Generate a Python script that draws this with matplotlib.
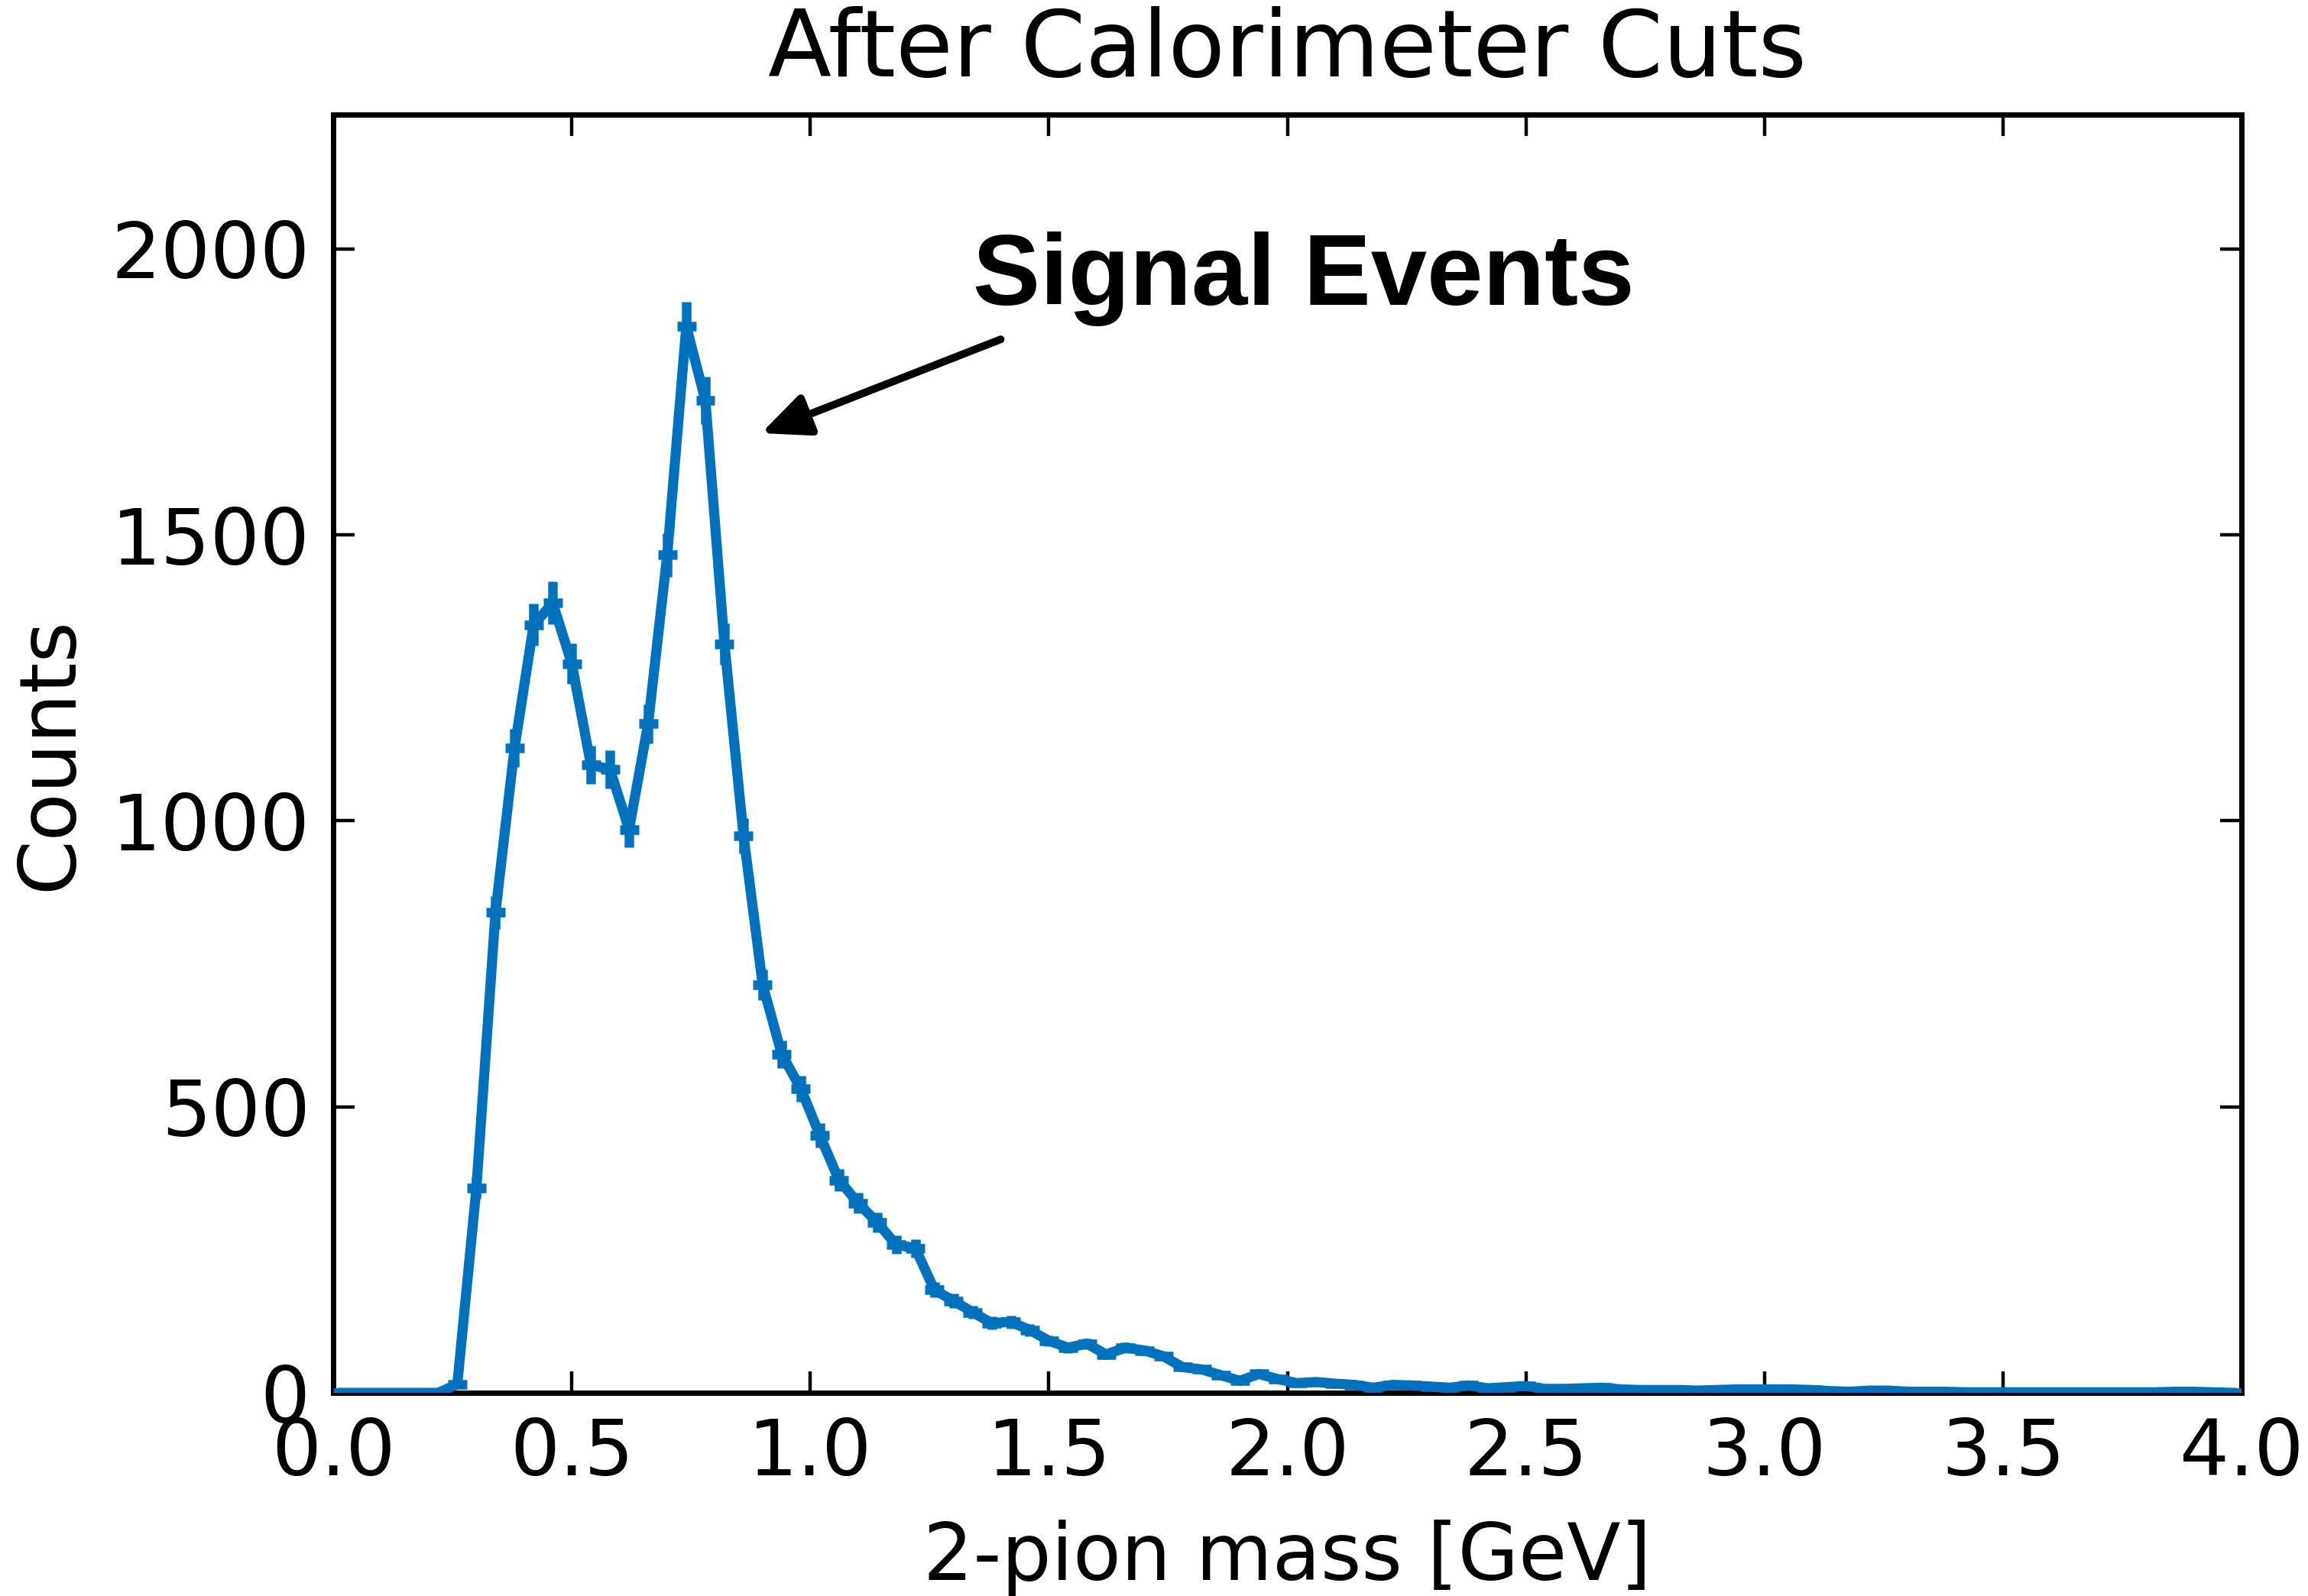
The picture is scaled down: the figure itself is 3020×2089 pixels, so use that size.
import numpy as np
import matplotlib
matplotlib.use("Agg")
import matplotlib.pyplot as plt

# ---- data ----
bin_width = 0.04  # GeV
counts = [
    0, 0, 0, 0, 0, 0, 15, 358, 840, 1128,
    1343, 1381, 1275, 1098, 1090, 985, 1170, 1465, 1865, 1735,
    1309, 974, 714, 592, 532, 450, 372, 332, 298, 259,
    253, 180, 161, 141, 122, 124, 110, 91, 79, 86,
    67, 79, 74, 64, 45, 41, 31, 21, 33, 24,
    17, 19, 16, 14, 9, 14, 13, 11, 9, 13,
    8, 10, 12, 7, 7, 8, 9, 6, 5, 5,
    5, 4, 5, 6, 6, 6, 6, 5, 3, 2,
    4, 4, 2, 2, 2, 1, 1, 1, 1, 1,
    1, 1, 1, 1, 1, 1, 2, 2, 1, 0,
]
xticks = [0.0, 0.5, 1.0, 1.5, 2.0, 2.5, 3.0, 3.5, 4.0]
yticks = [0, 500, 1000, 1500, 2000]

title = "After Calorimeter Cuts"
xlabel = "2-pion mass [GeV]"
ylabel = "Counts"
annot_text = "Signal Events"
annot_text_pos = (2.034, 1903)
arrow_tail = (1.399, 1842)
arrow_head = (0.897, 1678)

counts = np.array(counts, dtype=float)
centers = np.arange(len(counts)) * bin_width + bin_width / 2
yerr = np.sqrt(counts)

color = "#0072BD"

plt.rcParams["font.family"] = ["DejaVu Sans"]

fig = plt.figure(figsize=(30.2, 20.89), dpi=100)
ax = fig.add_axes([0.1444, 0.1273, 0.8268, 0.8009])

ax.errorbar(centers, counts, xerr=bin_width / 2, yerr=yerr, color=color,
            lw=9.5, elinewidth=9, capsize=0, zorder=3)

ax.set_xlim(0, 4)
ax.set_ylim(0, 2235)
ax.set_xticks(xticks)
ax.set_xticklabels([f"{t:.1f}" for t in xticks])
ax.set_yticks(yticks)
ax.set_yticklabels([str(t) for t in yticks])

ax.tick_params(axis="both", which="major", direction="in", top=True, right=True,
               length=20, width=3.2, labelsize=73.5, pad=22)
ax.minorticks_off()
for sp in ax.spines.values():
    sp.set_linewidth(5)

ax.set_title(title, fontsize=87.5, pad=36)
ax.set_xlabel(xlabel, fontsize=74)
ax.set_ylabel(ylabel, fontsize=74)
ax.xaxis.set_label_coords(0.5, -0.099)
ax.yaxis.set_label_coords(-0.128, 0.5)

ax.text(annot_text_pos[0], annot_text_pos[1], annot_text, ha="center", va="baseline",
        fontsize=95, fontweight="bold", family=["Liberation Sans", "DejaVu Sans"])
ax.annotate("", xy=arrow_head, xytext=arrow_tail,
            arrowprops=dict(arrowstyle="-|>,head_length=0.38,head_width=0.17",
                            lw=7.2, color="black", shrinkA=0, shrinkB=0,
                            mutation_scale=100))

fig.savefig("out.png", dpi=100, facecolor="white")
